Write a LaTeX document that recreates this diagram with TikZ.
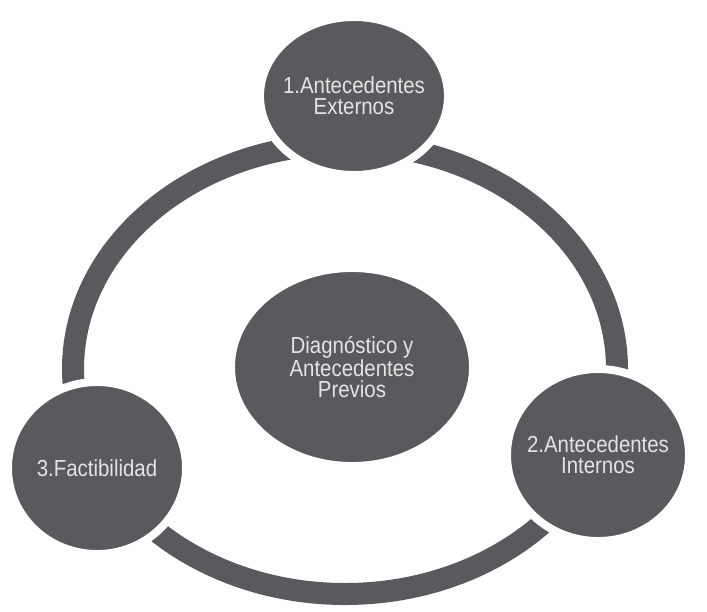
\documentclass[tikz,border=0pt]{standalone}
\usepackage{fontspec}
\setmainfont[FakeStretch=0.88]{Liberation Sans}
\usetikzlibrary{shapes.geometric}
\definecolor{discgray}{RGB}{90,90,94}
\definecolor{labelgray}{RGB}{228,228,228}
\begin{document}
\begin{tikzpicture}[x=0.025cm, y=-0.025cm,
    disc/.style={ellipse, fill=discgray, draw=white, line width=2mm, text=labelgray,
      align=center, inner sep=-1cm, font=\fontsize{16.5}{15}\selectfont}]
    \useasboundingbox (0,0) rectangle (707,611);

    % Anillo
    \coordinate (centro) at (345,369);
    \draw [discgray, line width=0.55cm] (centro) ellipse [x radius=272, y radius=225];

    % Círculos del ciclo
    \node [disc, minimum width=4.7cm, minimum height=3.95cm] (externos) at (354,96) {1.Antecedentes\\Externos};
    \node [disc, minimum width=4.55cm, minimum height=4.3cm] (internos) at (598,455) {2.Antecedentes\\Internos};
    \node [disc, minimum width=4.45cm, minimum height=4.3cm] (factib) at (97,468) {3.Factibilidad};

    % Círculo central
    \node [disc, minimum width=6.05cm, minimum height=4.95cm] (diagnostico) at (352,367) {Diagnóstico y\\Antecedentes\\Previos};
\end{tikzpicture}
\end{document}
